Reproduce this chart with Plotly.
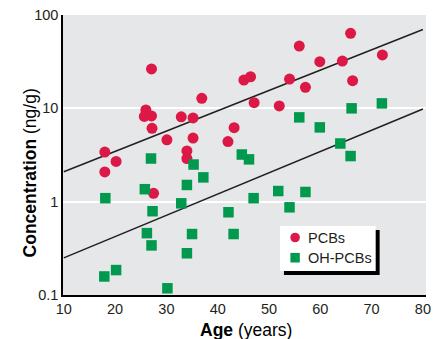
import plotly.graph_objects as go

# PCBs (red circles)
pcb_age = [18.0, 18.0, 20.2, 27.1, 26.0, 25.7, 27.1, 27.2, 27.5, 30.1, 32.9, 35.2, 35.2, 34.0, 34.0,
           36.9, 42.0, 43.2, 45.1, 46.4, 47.1, 52.0, 54.0, 55.9, 57.1, 59.9, 64.3, 65.9, 66.3, 72.1]
pcb_conc = [3.4, 2.08, 2.7, 26.4, 9.6, 8.2, 8.3, 6.1, 1.23, 4.6, 8.1, 7.9, 4.8, 3.5, 2.9,
            12.8, 4.4, 6.2, 20.1, 21.8, 11.5, 10.6, 20.6, 46.5, 16.8, 31.6, 32.1, 63.7, 19.8, 37.3]

# OH-PCBs (green squares)
oh_age = [27.0, 35.3, 37.2, 34.0, 25.8, 18.1, 32.9, 27.3, 42.1, 26.2, 35.0, 43.1, 27.1, 34.0, 20.2,
          17.9, 30.2, 44.7, 46.1, 47.0, 51.8, 57.1, 54.0, 65.9, 55.9, 59.9, 63.9, 66.1, 72.0]
oh_conc = [2.9, 2.5, 1.82, 1.51, 1.36, 1.09, 0.96, 0.79, 0.77, 0.46, 0.45, 0.45, 0.34, 0.28, 0.185,
           0.158, 0.118, 3.2, 2.84, 1.09, 1.3, 1.27, 0.87, 3.08, 8.0, 6.25, 4.2, 10.0, 11.3]

# Regression lines (endpoints)
fit_age = [10, 80]
pcb_fit = [2.09, 70.0]
oh_fit = [0.25, 9.84]

x_ticks = [10, 20, 30, 40, 50, 60, 70, 80]
y_ticks = [0.1, 1, 10, 100]
y_ticktext = ["0.1", "1", "10", "100"]
legend_labels = ["PCBs", "OH-PCBs"]

RED = "#dc1847"
GREEN = "#00994d"
BG = "#e6e7e8"
INK = "#231f20"
NARROW = "Liberation Sans Narrow, Liberation Sans, Arial, sans-serif"
SANS = "Liberation Sans, Arial, sans-serif"

# plot area in pixels: left 63, right 431, top 15, bottom 295
def px(xp):
    return (xp - 63) / 368

def py(yp):
    return (295 - yp) / 280

fig = go.Figure()
fig.add_trace(go.Scatter(x=fit_age, y=pcb_fit, mode="lines", line=dict(color=INK, width=1.5),
                         showlegend=False, hoverinfo="skip"))
fig.add_trace(go.Scatter(x=fit_age, y=oh_fit, mode="lines", line=dict(color=INK, width=1.5),
                         showlegend=False, hoverinfo="skip"))
fig.add_trace(go.Scatter(x=pcb_age, y=pcb_conc, mode="markers", name=legend_labels[0], showlegend=False,
                         marker=dict(symbol="circle", size=11, color=RED, line=dict(width=0))))
fig.add_trace(go.Scatter(x=oh_age, y=oh_conc, mode="markers", name=legend_labels[1], showlegend=False,
                         marker=dict(symbol="square", size=10.5, color=GREEN, line=dict(width=0))))

shapes = [
    # legend shadow and box
    dict(type="rect", xref="paper", yref="paper", layer="above",
         x0=px(287), x1=px(384), y0=py(275), y1=py(230), fillcolor="black", line=dict(width=0)),
    dict(type="rect", xref="paper", yref="paper", layer="above",
         x0=px(283), x1=px(380), y0=py(271), y1=py(226), fillcolor="white", line=dict(width=0)),
    # legend symbols
    dict(type="circle", xref="paper", yref="paper", layer="above", xsizemode="pixel", ysizemode="pixel",
         xanchor=px(298.3), yanchor=py(237.5), x0=-4.8, x1=4.8, y0=-4.8, y1=4.8,
         fillcolor=RED, line=dict(width=0)),
    dict(type="rect", xref="paper", yref="paper", layer="above", xsizemode="pixel", ysizemode="pixel",
         xanchor=px(298.3), yanchor=py(257.7), x0=-4.7, x1=4.7, y0=-4.8, y1=4.8,
         fillcolor=GREEN, line=dict(width=0)),
]

annotations = [
    dict(text="<b>Age</b> (years)", xref="paper", yref="paper",
         x=px(249), y=py(318), xanchor="center", yanchor="top",
         showarrow=False, font=dict(family=SANS, size=17.5, color="black")),
    dict(text="<b>Concentration</b> (ng/g)", xref="paper", yref="paper",
         x=px(30), y=py(173), xanchor="center", yanchor="middle",
         textangle=-90, showarrow=False, font=dict(family=SANS, size=17.5, color="black")),
    dict(text=legend_labels[0], xref="paper", yref="paper", x=px(309.5), y=py(238),
         xanchor="left", yanchor="middle", showarrow=False,
         font=dict(family=SANS, size=14.5, color=INK)),
    dict(text=legend_labels[1], xref="paper", yref="paper", x=px(309.5), y=py(257.5),
         xanchor="left", yanchor="middle", showarrow=False,
         font=dict(family=SANS, size=14.5, color=INK)),
]

fig.update_layout(
    width=437, height=339,
    margin=dict(l=63, r=6, t=15, b=44),
    paper_bgcolor="white",
    plot_bgcolor=BG,
    font=dict(family=NARROW, size=14.5, color=INK),
    showlegend=False,
    xaxis=dict(range=[9.85, 80.6], tickvals=x_ticks, showgrid=False, zeroline=False,
               showline=True, linecolor="black", linewidth=1.5, ticks="",
               tickfont=dict(family=NARROW, size=14.5, color=INK)),
    yaxis=dict(type="log", range=[-1, 2], tickvals=y_ticks, ticktext=y_ticktext,
               showgrid=True, gridcolor="white", gridwidth=1.5, zeroline=False,
               showline=True, linecolor="black", linewidth=1.5, ticks="",
               tickfont=dict(family=NARROW, size=14.5, color=INK)),
    annotations=annotations,
    shapes=shapes,
)

fig.write_html("out.html")
